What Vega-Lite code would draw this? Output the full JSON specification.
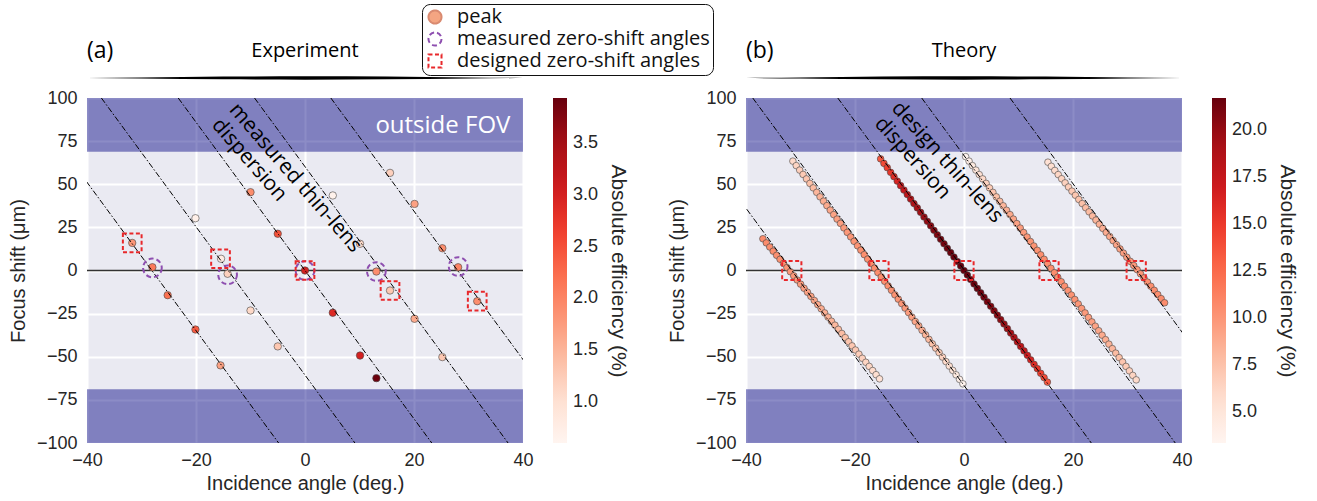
{
"$schema": "https://vega.github.io/schema/vega-lite/v6.json",
"padding": {"left": 8, "top": 3, "right": 5, "bottom": 5},
"background": "white",
"config": {
  "view": {"fill": "#EAEAF2", "stroke": null},
  "axis": {"grid": true, "gridColor": "white", "gridWidth": 2, "domain": false, "ticks": false, "labelFlush": false,
    "labelFont": "Liberation Sans", "labelFontSize": 18, "labelColor": "#262626",
    "titleFont": "Liberation Sans", "titleFontSize": 20, "titleFontWeight": "normal", "titleColor": "#262626"},
  "axisX": {"labelPadding": 8, "titlePadding": 4},
  "axisY": {"labelPadding": 10, "titlePadding": 8}
},
"datasets": {
  "bands": [{"x1": -40, "x2": 40, "y1": 68.8, "y2": 100}, {"x1": -40, "x2": 40, "y1": -100, "y2": -68.8}],
  "zero": [{"y": 0}],
  "spindle": [{"x": -40, "lo": 111.6, "hi": 111.6}, {"x": -30, "lo": 111.3, "hi": 111.9}, {"x": -15, "lo": 110.8, "hi": 112.4}, {"x": 0, "lo": 110.6, "hi": 112.6}, {"x": 15, "lo": 110.8, "hi": 112.4}, {"x": 30, "lo": 111.3, "hi": 111.9}, {"x": 40, "lo": 111.6, "hi": 111.6}],
  "linesA": [{"g": 1, "x": -51.36, "y": 100}, {"g": 1, "x": -4.84, "y": -100}, {"g": 2, "x": -37.36, "y": 100}, {"g": 2, "x": 9.16, "y": -100}, {"g": 3, "x": -23.26, "y": 100}, {"g": 3, "x": 23.26, "y": -100}, {"g": 4, "x": -9.26, "y": 100}, {"g": 4, "x": 37.26, "y": -100}, {"g": 5, "x": 4.74, "y": 100}, {"g": 5, "x": 51.26, "y": -100}],
  "linesB": [{"g": 1, "x": -54.86, "y": 100}, {"g": 1, "x": -8.34, "y": -100}, {"g": 2, "x": -38.76, "y": 100}, {"g": 2, "x": 7.76, "y": -100}, {"g": 3, "x": -23.16, "y": 100}, {"g": 3, "x": 23.36, "y": -100}, {"g": 4, "x": -7.76, "y": 100}, {"g": 4, "x": 38.76, "y": -100}, {"g": 5, "x": 8.44, "y": 100}, {"g": 5, "x": 54.96, "y": -100}],
  "peak": [
    {"x": -31.7, "y": 16.0, "e": 1.8}, {"x": -28.0, "y": 1.9, "e": 2.1}, {"x": -25.2, "y": -14.3, "e": 2.2}, {"x": -20.1, "y": -34.2, "e": 2.4}, {"x": -15.5, "y": -55.0, "e": 1.7},
    {"x": -20.1, "y": 30.3, "e": 0.7}, {"x": -15.4, "y": 6.8, "e": 0.8}, {"x": -14.2, "y": -1.9, "e": 1.2}, {"x": -10.0, "y": -23.2, "e": 1.1}, {"x": -5.0, "y": -44.0, "e": 1.3},
    {"x": -10.0, "y": 45.4, "e": 1.9}, {"x": -5.0, "y": 21.3, "e": 2.5}, {"x": 0.0, "y": 0.0, "e": 3.0}, {"x": 5.1, "y": -24.5, "e": 2.9}, {"x": 10.1, "y": -49.3, "e": 3.0}, {"x": 13.1, "y": -62.4, "e": 3.9},
    {"x": 5.1, "y": 43.5, "e": 0.65}, {"x": 10.1, "y": 15.5, "e": 1.1}, {"x": 13.1, "y": -0.6, "e": 1.9}, {"x": 15.6, "y": -11.6, "e": 1.3}, {"x": 20.1, "y": -28.0, "e": 1.6}, {"x": 25.2, "y": -50.2, "e": 1.3},
    {"x": 15.6, "y": 56.6, "e": 1.2}, {"x": 20.1, "y": 38.6, "e": 1.7}, {"x": 25.2, "y": 12.9, "e": 1.9}, {"x": 28.1, "y": 1.9, "e": 2.0}, {"x": 31.6, "y": -17.8, "e": 1.9}
  ],
  "markersA": [
    {"x": -28.0, "y": 1.5, "m": "measured zero-shift angles"}, {"x": -14.2, "y": -2.5, "m": "measured zero-shift angles"}, {"x": 0.0, "y": 0.0, "m": "measured zero-shift angles"}, {"x": 13.1, "y": -0.6, "m": "measured zero-shift angles"}, {"x": 28.1, "y": 2.3, "m": "measured zero-shift angles"},
    {"x": -31.7, "y": 16.0, "m": "designed zero-shift angles"}, {"x": -15.5, "y": 6.8, "m": "designed zero-shift angles"}, {"x": 0.0, "y": 0.0, "m": "designed zero-shift angles"}, {"x": 15.6, "y": -11.6, "m": "designed zero-shift angles"}, {"x": 31.6, "y": -17.8, "m": "designed zero-shift angles"}
  ],
  "squaresB": [{"x": -31.6, "y": 0}, {"x": -15.6, "y": 0}, {"x": 0, "y": 0}, {"x": 15.6, "y": 0}, {"x": 31.6, "y": 0}],
  "titlesLeftA": [{"t": "(a)", "x": -40, "y": 127}],
  "titlesMidA": [{"t": "Experiment", "x": 0, "y": 127}],
  "titlesLeftB": [{"t": "(b)", "x": -40, "y": 127}],
  "titlesMidB": [{"t": "Theory", "x": 0, "y": 127}],
  "annotA": [{"t": "measured thin-lens\ndispersion", "x": -11.7, "y": 99.3}],
  "annotB": [{"t": "design thin-lens\ndispersion", "x": -11.1, "y": 100.3}],
  "fov": [{"t": "outside FOV", "x": 25.3, "y": 84}],
  "theory": [
    {"x":-36.9,"y":18.4,"e":10.6},{"x":-36.27,"y":16.0,"e":10.6},{"x":-35.64,"y":13.6,"e":10.5},{"x":-35.01,"y":11.2,"e":10.5},{"x":-34.38,"y":8.8,"e":10.4},{"x":-33.75,"y":6.5,"e":10.3},{"x":-33.12,"y":4.1,"e":10.2},{"x":-32.49,"y":1.7,"e":10.1},{"x":-31.86,"y":-0.7,"e":10.0},{"x":-31.24,"y":-3.1,"e":9.9},{"x":-30.61,"y":-5.5,"e":9.8},{"x":-29.98,"y":-7.9,"e":9.7},{"x":-29.35,"y":-10.3,"e":9.5},{"x":-28.72,"y":-12.6,"e":9.4},{"x":-28.09,"y":-15.0,"e":9.3},{"x":-27.46,"y":-17.4,"e":9.1},{"x":-26.83,"y":-19.8,"e":9.0},{"x":-26.2,"y":-22.2,"e":8.8},{"x":-25.57,"y":-24.6,"e":8.6},{"x":-24.94,"y":-27.0,"e":8.5},{"x":-24.31,"y":-29.4,"e":8.3},{"x":-23.68,"y":-31.7,"e":8.1},{"x":-23.05,"y":-34.1,"e":7.9},{"x":-22.42,"y":-36.5,"e":7.8},{"x":-21.79,"y":-38.9,"e":7.6},{"x":-21.17,"y":-41.3,"e":7.4},{"x":-20.54,"y":-43.7,"e":7.2},{"x":-19.91,"y":-46.1,"e":7.0},{"x":-19.28,"y":-48.5,"e":6.8},{"x":-18.65,"y":-50.9,"e":6.6},{"x":-18.02,"y":-53.2,"e":6.4},{"x":-17.39,"y":-55.6,"e":6.2},{"x":-16.76,"y":-58.0,"e":5.9},{"x":-16.13,"y":-60.4,"e":5.7},{"x":-15.5,"y":-62.8,"e":5.5},
    {"x":-31.4,"y":63.4,"e":6.0},{"x":-30.78,"y":60.8,"e":6.4},{"x":-30.15,"y":58.2,"e":6.7},{"x":-29.53,"y":55.7,"e":7.0},{"x":-28.9,"y":53.1,"e":7.3},{"x":-28.28,"y":50.5,"e":7.6},{"x":-27.66,"y":47.9,"e":7.9},{"x":-27.03,"y":45.3,"e":8.2},{"x":-26.41,"y":42.7,"e":8.4},{"x":-25.78,"y":40.2,"e":8.7},{"x":-25.16,"y":37.6,"e":8.9},{"x":-24.54,"y":35.0,"e":9.1},{"x":-23.91,"y":32.4,"e":9.3},{"x":-23.29,"y":29.8,"e":9.5},{"x":-22.66,"y":27.3,"e":9.6},{"x":-22.04,"y":24.7,"e":9.8},{"x":-21.42,"y":22.1,"e":9.9},{"x":-20.79,"y":19.5,"e":10.0},{"x":-20.17,"y":16.9,"e":10.1},{"x":-19.54,"y":14.3,"e":10.2},{"x":-18.92,"y":11.8,"e":10.3},{"x":-18.3,"y":9.2,"e":10.4},{"x":-17.67,"y":6.6,"e":10.4},{"x":-17.05,"y":4.0,"e":10.5},{"x":-16.42,"y":1.4,"e":10.5},{"x":-15.8,"y":-1.2,"e":10.5},{"x":-15.18,"y":-3.7,"e":10.5},{"x":-14.55,"y":-6.3,"e":10.5},{"x":-13.93,"y":-8.9,"e":10.4},{"x":-13.3,"y":-11.5,"e":10.3},{"x":-12.68,"y":-14.1,"e":10.2},{"x":-12.06,"y":-16.6,"e":10.1},{"x":-11.43,"y":-19.2,"e":10.0},{"x":-10.81,"y":-21.8,"e":9.8},{"x":-10.18,"y":-24.4,"e":9.6},{"x":-9.56,"y":-27.0,"e":9.4},{"x":-8.94,"y":-29.6,"e":9.1},{"x":-8.31,"y":-32.1,"e":8.9},{"x":-7.69,"y":-34.7,"e":8.6},{"x":-7.06,"y":-37.3,"e":8.3},{"x":-6.44,"y":-39.9,"e":8.0},{"x":-5.82,"y":-42.5,"e":7.6},{"x":-5.19,"y":-45.0,"e":7.3},{"x":-4.57,"y":-47.6,"e":6.9},{"x":-3.94,"y":-50.2,"e":6.5},{"x":-3.32,"y":-52.8,"e":6.0},{"x":-2.7,"y":-55.4,"e":5.6},{"x":-2.07,"y":-57.9,"e":5.1},{"x":-1.45,"y":-60.5,"e":4.6},{"x":-0.82,"y":-63.1,"e":4.0},{"x":-0.2,"y":-65.7,"e":3.5},
    {"x":-15.3,"y":64.7,"e":13.4},{"x":-14.69,"y":62.1,"e":14.1},{"x":-14.08,"y":59.6,"e":14.7},{"x":-13.46,"y":56.9,"e":15.3},{"x":-12.85,"y":54.4,"e":15.9},{"x":-12.24,"y":51.8,"e":16.4},{"x":-11.63,"y":49.2,"e":16.9},{"x":-11.02,"y":46.6,"e":17.4},{"x":-10.4,"y":44.0,"e":17.9},{"x":-9.79,"y":41.4,"e":18.3},{"x":-9.18,"y":38.8,"e":18.7},{"x":-8.57,"y":36.3,"e":19.1},{"x":-7.96,"y":33.7,"e":19.5},{"x":-7.34,"y":31.0,"e":19.8},{"x":-6.73,"y":28.5,"e":20.1},{"x":-6.12,"y":25.9,"e":20.4},{"x":-5.51,"y":23.3,"e":20.6},{"x":-4.9,"y":20.7,"e":20.8},{"x":-4.28,"y":18.1,"e":21.1},{"x":-3.67,"y":15.5,"e":21.2},{"x":-3.06,"y":12.9,"e":21.4},{"x":-2.45,"y":10.4,"e":21.5},{"x":-1.84,"y":7.8,"e":21.6},{"x":-1.22,"y":5.2,"e":21.6},{"x":-0.61,"y":2.6,"e":21.7},{"x":0.0,"y":0.0,"e":21.7},{"x":0.61,"y":-2.6,"e":21.7},{"x":1.22,"y":-5.2,"e":21.6},{"x":1.84,"y":-7.8,"e":21.6},{"x":2.45,"y":-10.4,"e":21.5},{"x":3.06,"y":-12.9,"e":21.4},{"x":3.67,"y":-15.5,"e":21.2},{"x":4.28,"y":-18.1,"e":21.1},{"x":4.9,"y":-20.7,"e":20.8},{"x":5.51,"y":-23.3,"e":20.6},{"x":6.12,"y":-25.9,"e":20.4},{"x":6.73,"y":-28.5,"e":20.1},{"x":7.34,"y":-31.0,"e":19.8},{"x":7.96,"y":-33.7,"e":19.5},{"x":8.57,"y":-36.3,"e":19.1},{"x":9.18,"y":-38.8,"e":18.7},{"x":9.79,"y":-41.4,"e":18.3},{"x":10.4,"y":-44.0,"e":17.9},{"x":11.02,"y":-46.6,"e":17.4},{"x":11.63,"y":-49.2,"e":16.9},{"x":12.24,"y":-51.8,"e":16.4},{"x":12.85,"y":-54.4,"e":15.9},{"x":13.46,"y":-56.9,"e":15.3},{"x":14.08,"y":-59.6,"e":14.7},{"x":14.69,"y":-62.1,"e":14.1},{"x":15.3,"y":-64.7,"e":13.4},
    {"x":0.3,"y":66.0,"e":3.5},{"x":0.93,"y":63.4,"e":4.0},{"x":1.55,"y":60.8,"e":4.6},{"x":2.18,"y":58.2,"e":5.1},{"x":2.8,"y":55.6,"e":5.6},{"x":3.43,"y":53.1,"e":6.0},{"x":4.06,"y":50.5,"e":6.5},{"x":4.68,"y":47.9,"e":6.9},{"x":5.31,"y":45.3,"e":7.3},{"x":5.93,"y":42.7,"e":7.6},{"x":6.56,"y":40.1,"e":8.0},{"x":7.19,"y":37.5,"e":8.3},{"x":7.81,"y":34.9,"e":8.6},{"x":8.44,"y":32.4,"e":8.9},{"x":9.06,"y":29.8,"e":9.1},{"x":9.69,"y":27.2,"e":9.4},{"x":10.32,"y":24.6,"e":9.6},{"x":10.94,"y":22.0,"e":9.8},{"x":11.57,"y":19.4,"e":10.0},{"x":12.19,"y":16.8,"e":10.1},{"x":12.82,"y":14.2,"e":10.2},{"x":13.45,"y":11.7,"e":10.3},{"x":14.07,"y":9.1,"e":10.4},{"x":14.7,"y":6.5,"e":10.5},{"x":15.32,"y":3.9,"e":10.5},{"x":15.95,"y":1.3,"e":10.5},{"x":16.58,"y":-1.3,"e":10.5},{"x":17.2,"y":-3.9,"e":10.5},{"x":17.83,"y":-6.5,"e":10.4},{"x":18.45,"y":-9.1,"e":10.4},{"x":19.08,"y":-11.6,"e":10.3},{"x":19.71,"y":-14.2,"e":10.2},{"x":20.33,"y":-16.8,"e":10.1},{"x":20.96,"y":-19.4,"e":10.0},{"x":21.58,"y":-22.0,"e":9.9},{"x":22.21,"y":-24.6,"e":9.8},{"x":22.84,"y":-27.2,"e":9.6},{"x":23.46,"y":-29.8,"e":9.5},{"x":24.09,"y":-32.3,"e":9.3},{"x":24.71,"y":-34.9,"e":9.1},{"x":25.34,"y":-37.5,"e":8.9},{"x":25.97,"y":-40.1,"e":8.7},{"x":26.59,"y":-42.7,"e":8.4},{"x":27.22,"y":-45.3,"e":8.2},{"x":27.84,"y":-47.9,"e":7.9},{"x":28.47,"y":-50.5,"e":7.6},{"x":29.1,"y":-53.0,"e":7.3},{"x":29.72,"y":-55.6,"e":7.0},{"x":30.35,"y":-58.2,"e":6.7},{"x":30.97,"y":-60.8,"e":6.4},{"x":31.6,"y":-63.4,"e":6.0},
    {"x":15.4,"y":62.8,"e":5.5},{"x":16.03,"y":60.4,"e":5.7},{"x":16.66,"y":58.0,"e":5.9},{"x":17.29,"y":55.6,"e":6.2},{"x":17.92,"y":53.2,"e":6.4},{"x":18.55,"y":50.8,"e":6.6},{"x":19.18,"y":48.4,"e":6.8},{"x":19.81,"y":46.0,"e":7.0},{"x":20.44,"y":43.6,"e":7.2},{"x":21.06,"y":41.2,"e":7.4},{"x":21.69,"y":38.8,"e":7.6},{"x":22.32,"y":36.4,"e":7.8},{"x":22.95,"y":34.0,"e":7.9},{"x":23.58,"y":31.6,"e":8.1},{"x":24.21,"y":29.2,"e":8.3},{"x":24.84,"y":26.8,"e":8.5},{"x":25.47,"y":24.4,"e":8.6},{"x":26.1,"y":22.0,"e":8.8},{"x":26.73,"y":19.7,"e":9.0},{"x":27.36,"y":17.3,"e":9.1},{"x":27.99,"y":14.9,"e":9.3},{"x":28.62,"y":12.5,"e":9.4},{"x":29.25,"y":10.1,"e":9.5},{"x":29.88,"y":7.7,"e":9.7},{"x":30.51,"y":5.3,"e":9.8},{"x":31.14,"y":2.9,"e":9.9},{"x":31.76,"y":0.5,"e":10.0},{"x":32.39,"y":-1.9,"e":10.1},{"x":33.02,"y":-4.3,"e":10.2},{"x":33.65,"y":-6.7,"e":10.3},{"x":34.28,"y":-9.1,"e":10.4},{"x":34.91,"y":-11.5,"e":10.5},{"x":35.54,"y":-13.9,"e":10.5},{"x":36.17,"y":-16.3,"e":10.6},{"x":36.8,"y":-18.7,"e":10.6}
  ]
},
"bounds": "flush",
"spacing": 223,
"resolve": {"scale": {"color": "independent"}, "legend": {"color": "independent"}},
"hconcat": [
  {
    "width": 436, "height": 345,
    "layer": [
      {"data": {"name": "bands"}, "mark": {"type": "rect", "fill": "#000080", "opacity": 0.45},
       "encoding": {
         "x": {"field": "x1", "type": "quantitative", "scale": {"domain": [-40, 40], "nice": false, "zero": false}, "axis": {"values": [-40, -20, 0, 20, 40]}, "title": "Incidence angle (deg.)"},
         "x2": {"field": "x2"},
         "y": {"field": "y1", "type": "quantitative", "scale": {"domain": [-100, 100], "nice": false, "zero": false}, "axis": {"values": [-100, -75, -50, -25, 0, 25, 50, 75, 100]}, "title": "Focus shift (μm)"},
         "y2": {"field": "y2"}}},
      {"data": {"name": "zero"}, "mark": {"type": "rule", "color": "#333333", "strokeWidth": 1.5},
       "encoding": {"y": {"field": "y", "type": "quantitative"}}},
      {"data": {"name": "peak"}, "mark": {"type": "circle", "size": 55, "stroke": "#444444", "strokeWidth": 0.6, "opacity": 1},
       "encoding": {
         "x": {"field": "x", "type": "quantitative"},
         "y": {"field": "y", "type": "quantitative"},
         "color": {"field": "e", "type": "quantitative",
           "scale": {"domain": [0.6, 1.0175, 1.435, 1.8525, 2.27, 2.6875, 3.105, 3.5225, 3.94], "range": ["#fff5f0", "#fee0d2", "#fcbba1", "#fc9272", "#fb6a4a", "#ef3b2c", "#cb181d", "#a50f15", "#67000d"], "interpolate": "rgb"},
           "legend": {"type": "gradient", "orient": "right", "offset": 30, "gradientLength": 345, "gradientThickness": 14, "gradientStrokeWidth": 0,
             "values": [1, 1.5, 2, 2.5, 3, 3.5], "format": ".1f", "title": "Absolute efficiency (%)", "titleOrient": "right", "titleAngle": 90, "titleAnchor": "middle", "titleLimit": 500,
             "titleFont": "Liberation Sans", "titleFontSize": 21, "titleFontWeight": "normal", "titleColor": "#262626", "titlePadding": 10,
             "labelFont": "Liberation Sans", "labelFontSize": 18, "labelColor": "#262626", "labelOffset": 6, "labelOverlap": false}}}},
      {"data": {"name": "linesA"}, "mark": {"type": "line", "color": "black", "strokeWidth": 1, "strokeDash": [6, 2, 1.5, 2], "clip": true},
       "encoding": {"x": {"field": "x", "type": "quantitative"}, "y": {"field": "y", "type": "quantitative"}, "detail": {"field": "g", "type": "nominal"}}},
      {"data": {"name": "markersA"}, "mark": {"type": "point", "size": 350, "strokeWidth": 2, "opacity": 1},
       "encoding": {
         "x": {"field": "x", "type": "quantitative"},
         "y": {"field": "y", "type": "quantitative"},
         "shape": {"field": "m", "type": "nominal", "scale": {"domain": ["peak", "measured zero-shift angles", "designed zero-shift angles"], "range": ["circle", "circle", "square"]},
           "legend": {"orient": "none", "legendX": 335, "legendY": -94, "title": null, "labelFont": "Open Sans", "labelFontSize": 20, "labelColor": "#111111", "labelOffset": 12, "labelLimit": 400, "symbolSize": 170, "symbolStrokeWidth": 2, "rowPadding": 0, "padding": 3, "strokeColor": "#111111", "fillColor": "white", "cornerRadius": 8, "encode": {"legend": {"update": {"strokeWidth": {"value": 2}}}, "symbols": {"update": {"size": {"value": 170}, "strokeWidth": {"value": 2}}}}}},
         "stroke": {"field": "m", "type": "nominal", "scale": {"domain": ["peak", "measured zero-shift angles", "designed zero-shift angles"], "range": ["#d98a70", "#8E4FB0", "#E8282B"]},
           "legend": {"orient": "none", "legendX": 335, "legendY": -94, "title": null, "labelFont": "Open Sans", "labelFontSize": 20, "labelColor": "#111111", "labelOffset": 12, "labelLimit": 400, "symbolSize": 170, "symbolStrokeWidth": 2, "rowPadding": 0, "padding": 3, "strokeColor": "#111111", "fillColor": "white", "cornerRadius": 8, "encode": {"legend": {"update": {"strokeWidth": {"value": 2}}}, "symbols": {"update": {"size": {"value": 170}, "strokeWidth": {"value": 2}}}}}},
         "fill": {"field": "m", "type": "nominal", "scale": {"domain": ["peak", "measured zero-shift angles", "designed zero-shift angles"], "range": ["#F4A582", "transparent", "transparent"]},
           "legend": {"orient": "none", "legendX": 335, "legendY": -94, "title": null, "labelFont": "Open Sans", "labelFontSize": 20, "labelColor": "#111111", "labelOffset": 12, "labelLimit": 400, "symbolSize": 170, "symbolStrokeWidth": 2, "rowPadding": 0, "padding": 3, "strokeColor": "#111111", "fillColor": "white", "cornerRadius": 8, "encode": {"legend": {"update": {"strokeWidth": {"value": 2}}}, "symbols": {"update": {"size": {"value": 170}, "strokeWidth": {"value": 2}}}}}},
         "strokeDash": {"field": "m", "type": "nominal", "scale": {"domain": ["peak", "measured zero-shift angles", "designed zero-shift angles"], "range": [[1, 0], [5, 3], [4, 2.5]]},
           "legend": {"orient": "none", "legendX": 335, "legendY": -94, "title": null, "labelFont": "Open Sans", "labelFontSize": 20, "labelColor": "#111111", "labelOffset": 12, "labelLimit": 400, "symbolSize": 170, "symbolStrokeWidth": 2, "rowPadding": 0, "padding": 3, "strokeColor": "#111111", "fillColor": "white", "cornerRadius": 8, "encode": {"legend": {"update": {"strokeWidth": {"value": 2}}}, "symbols": {"update": {"size": {"value": 170}, "strokeWidth": {"value": 2}}}}}}
       }},
      {"data": {"name": "fov"}, "mark": {"type": "text", "font": "Open Sans", "fontSize": 24, "color": "white", "align": "center", "baseline": "middle"},
       "encoding": {"x": {"field": "x", "type": "quantitative"}, "y": {"field": "y", "type": "quantitative"}, "text": {"field": "t"}}},
      {"data": {"name": "annotA"}, "mark": {"type": "text", "font": "Open Sans", "fontSize": 21, "lineHeight": 23, "lineBreak": "\n", "color": "black", "align": "left", "baseline": "top", "angle": 49},
       "encoding": {"x": {"field": "x", "type": "quantitative"}, "y": {"field": "y", "type": "quantitative"}, "text": {"field": "t"}}},
      {"data": {"name": "titlesLeftA"}, "mark": {"type": "text", "font": "Open Sans", "fontSize": 23, "color": "black", "align": "left", "baseline": "middle"},
       "encoding": {"x": {"field": "x", "type": "quantitative"}, "y": {"field": "y", "type": "quantitative"}, "text": {"field": "t"}}},
      {"data": {"name": "titlesMidA"}, "mark": {"type": "text", "font": "Open Sans", "fontSize": 20, "color": "black", "align": "center", "baseline": "middle"},
       "encoding": {"x": {"field": "x", "type": "quantitative"}, "y": {"field": "y", "type": "quantitative"}, "text": {"field": "t"}}},
      {"data": {"name": "spindle"}, "mark": {"type": "area", "color": "black", "interpolate": "monotone"},
       "encoding": {"x": {"field": "x", "type": "quantitative"}, "y": {"field": "lo", "type": "quantitative"}, "y2": {"field": "hi"}}}
    ]
  },
  {
    "width": 436, "height": 345,
    "layer": [
      {"data": {"name": "bands"}, "mark": {"type": "rect", "fill": "#000080", "opacity": 0.45},
       "encoding": {
         "x": {"field": "x1", "type": "quantitative", "scale": {"domain": [-40, 40], "nice": false, "zero": false}, "axis": {"values": [-40, -20, 0, 20, 40]}, "title": "Incidence angle (deg.)"},
         "x2": {"field": "x2"},
         "y": {"field": "y1", "type": "quantitative", "scale": {"domain": [-100, 100], "nice": false, "zero": false}, "axis": {"values": [-100, -75, -50, -25, 0, 25, 50, 75, 100]}, "title": "Focus shift (μm)"},
         "y2": {"field": "y2"}}},
      {"data": {"name": "zero"}, "mark": {"type": "rule", "color": "#333333", "strokeWidth": 1.5},
       "encoding": {"y": {"field": "y", "type": "quantitative"}}},
      {"data": {"name": "theory"}, "mark": {"type": "circle", "size": 44, "stroke": "#444444", "strokeWidth": 0.6, "opacity": 1},
       "encoding": {
         "x": {"field": "x", "type": "quantitative"},
         "y": {"field": "y", "type": "quantitative"},
         "color": {"field": "e", "type": "quantitative",
           "scale": {"domain": [3.35, 5.6475, 7.945, 10.2425, 12.54, 14.8375, 17.135, 19.4325, 21.73], "range": ["#fff5f0", "#fee0d2", "#fcbba1", "#fc9272", "#fb6a4a", "#ef3b2c", "#cb181d", "#a50f15", "#67000d"], "interpolate": "rgb"},
           "legend": {"type": "gradient", "orient": "right", "offset": 30, "gradientLength": 345, "gradientThickness": 14, "gradientStrokeWidth": 0,
             "values": [5, 7.5, 10, 12.5, 15, 17.5, 20], "format": ".1f", "title": "Absolute efficiency (%)", "titleOrient": "right", "titleAngle": 90, "titleAnchor": "middle", "titleLimit": 500,
             "titleFont": "Liberation Sans", "titleFontSize": 21, "titleFontWeight": "normal", "titleColor": "#262626", "titlePadding": 10,
             "labelFont": "Liberation Sans", "labelFontSize": 18, "labelColor": "#262626", "labelOffset": 6, "labelOverlap": false}}}},
      {"data": {"name": "linesB"}, "mark": {"type": "line", "color": "black", "strokeWidth": 1, "strokeDash": [6, 2, 1.5, 2], "clip": true},
       "encoding": {"x": {"field": "x", "type": "quantitative"}, "y": {"field": "y", "type": "quantitative"}, "detail": {"field": "g", "type": "nominal"}}},
      {"data": {"name": "squaresB"}, "mark": {"type": "point", "shape": "square", "size": 370, "strokeWidth": 2, "stroke": "#E8282B", "fill": "transparent", "strokeDash": [4, 2.5], "opacity": 1},
       "encoding": {"x": {"field": "x", "type": "quantitative"}, "y": {"field": "y", "type": "quantitative"}}},
      {"data": {"name": "annotB"}, "mark": {"type": "text", "font": "Open Sans", "fontSize": 21, "lineHeight": 23, "lineBreak": "\n", "color": "black", "align": "left", "baseline": "top", "angle": 48},
       "encoding": {"x": {"field": "x", "type": "quantitative"}, "y": {"field": "y", "type": "quantitative"}, "text": {"field": "t"}}},
      {"data": {"name": "titlesLeftB"}, "mark": {"type": "text", "font": "Open Sans", "fontSize": 23, "color": "black", "align": "left", "baseline": "middle"},
       "encoding": {"x": {"field": "x", "type": "quantitative"}, "y": {"field": "y", "type": "quantitative"}, "text": {"field": "t"}}},
      {"data": {"name": "titlesMidB"}, "mark": {"type": "text", "font": "Open Sans", "fontSize": 20, "color": "black", "align": "center", "baseline": "middle"},
       "encoding": {"x": {"field": "x", "type": "quantitative"}, "y": {"field": "y", "type": "quantitative"}, "text": {"field": "t"}}},
      {"data": {"name": "spindle"}, "mark": {"type": "area", "color": "black", "interpolate": "monotone"},
       "encoding": {"x": {"field": "x", "type": "quantitative"}, "y": {"field": "lo", "type": "quantitative"}, "y2": {"field": "hi"}}}
    ]
  }
]
}
